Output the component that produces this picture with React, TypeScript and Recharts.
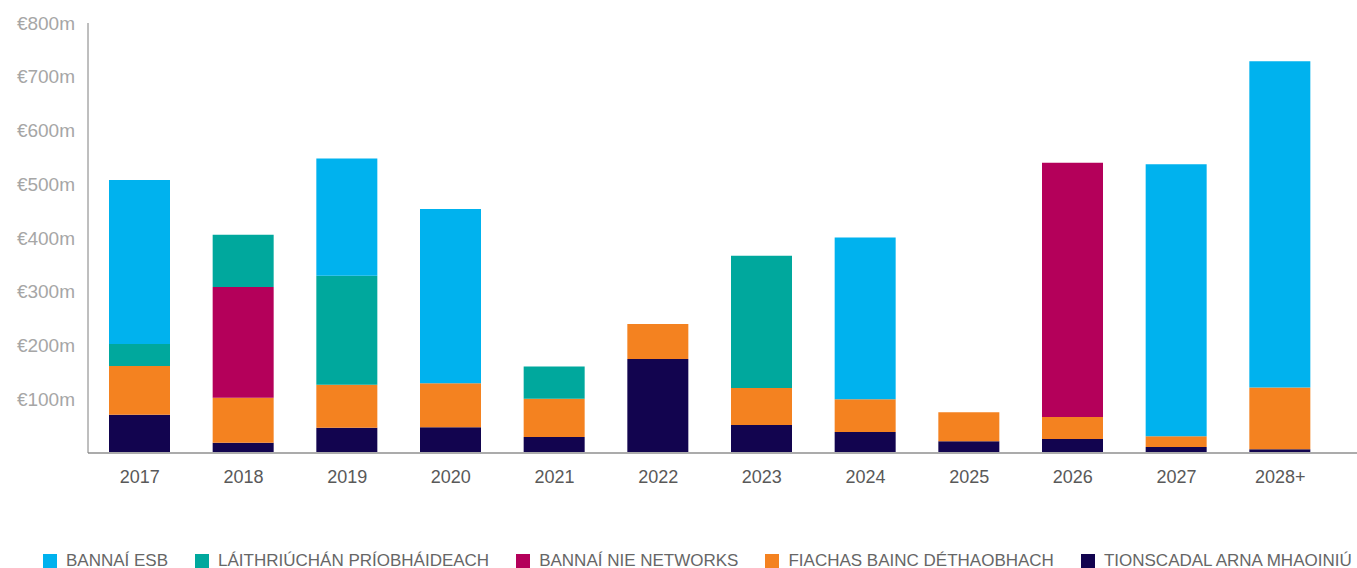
import { BarChart, Bar, XAxis, YAxis, Legend } from 'recharts'

document.body.style.margin = '0'

const FONT = '"Liberation Sans", Arial, sans-serif'

// categories (years)
const years = ['2017', '2018', '2019', '2020', '2021', '2022', '2023', '2024', '2025', '2026', '2027', '2028+']

// €m per year
const tionscadal = [71, 19, 47, 48, 30, 175, 52, 39, 22, 26, 11, 7]
const fiachas = [91, 84, 80, 82, 71, 65, 69, 61, 54, 41, 20, 115]
const nie = [0, 206, 0, 0, 0, 0, 0, 0, 0, 473, 0, 0]
const laithriuchan = [41, 97, 203, 0, 60, 0, 246, 0, 0, 0, 0, 0]
const esb = [305, 0, 218, 324, 0, 0, 0, 301, 0, 0, 506, 607]

const yTicks = [100, 200, 300, 400, 500, 600, 700, 800]

// stack order, bottom to top
const SERIES = [
  { key: 'tionscadal', name: 'TIONSCADAL ARNA MHAOINIÚ', color: '#12044F' },
  { key: 'fiachas', name: 'FIACHAS BAINC DÉTHAOBHACH', color: '#F48220' },
  { key: 'nie', name: 'BANNAÍ NIE NETWORKS', color: '#B4005A' },
  { key: 'laithriuchan', name: 'LÁITHRIÚCHÁN PRÍOBHÁIDEACH', color: '#00A89D' },
  { key: 'esb', name: 'BANNAÍ ESB', color: '#00B2EE' },
]

const data = years.map((year, i) => ({
  year,
  tionscadal: tionscadal[i],
  fiachas: fiachas[i],
  nie: nie[i],
  laithriuchan: laithriuchan[i],
  esb: esb[i],
}))

function LegendRow() {
  const items = [...SERIES].reverse()
  return (
    <div
      style={{
        display: 'flex',
        height: 20,
        paddingLeft: 43,
        paddingTop: 6,
        boxSizing: 'border-box',
        fontFamily: FONT,
        fontSize: 17,
        lineHeight: '20px',
        color: '#666',
        whiteSpace: 'nowrap',
      }}
    >
      {items.map((s) => (
        <span key={s.key} style={{ display: 'flex', alignItems: 'center', marginRight: 27 }}>
          <span style={{ width: 14, height: 14, background: s.color, marginRight: 9 }} />
          {s.name}
        </span>
      ))}
    </div>
  )
}

export default function App() {
  return (
    <BarChart
      width={1357}
      height={568}
      data={data}
      margin={{ top: 23, right: 0, bottom: 0, left: 0 }}
      barSize={61}
    >
      <XAxis
        dataKey="year"
        height={95}
        padding={{ left: 0, right: 25 }}
        tickLine={false}
        tickSize={0}
        tickMargin={17}
        axisLine={{ stroke: '#ababab', strokeWidth: 2 }}
        tick={{ fill: '#595959', fontSize: 18, fontFamily: FONT }}
      />
      <YAxis
        width={88}
        domain={[0, 800]}
        ticks={yTicks}
        interval={0}
        tickLine={false}
        tickSize={0}
        tickMargin={13}
        axisLine={{ stroke: '#7f7f7f', strokeWidth: 1 }}
        tick={{ fill: '#a6a6a6', fontSize: 19, fontFamily: FONT }}
        tickFormatter={(v: number) => `€${v}m`}
      />
      <Legend verticalAlign="bottom" align="left" content={() => <LegendRow />} />
      {SERIES.map((s) => (
        <Bar key={s.key} dataKey={s.key} name={s.name} stackId="a" fill={s.color} isAnimationActive={false} />
      ))}
    </BarChart>
  )
}
